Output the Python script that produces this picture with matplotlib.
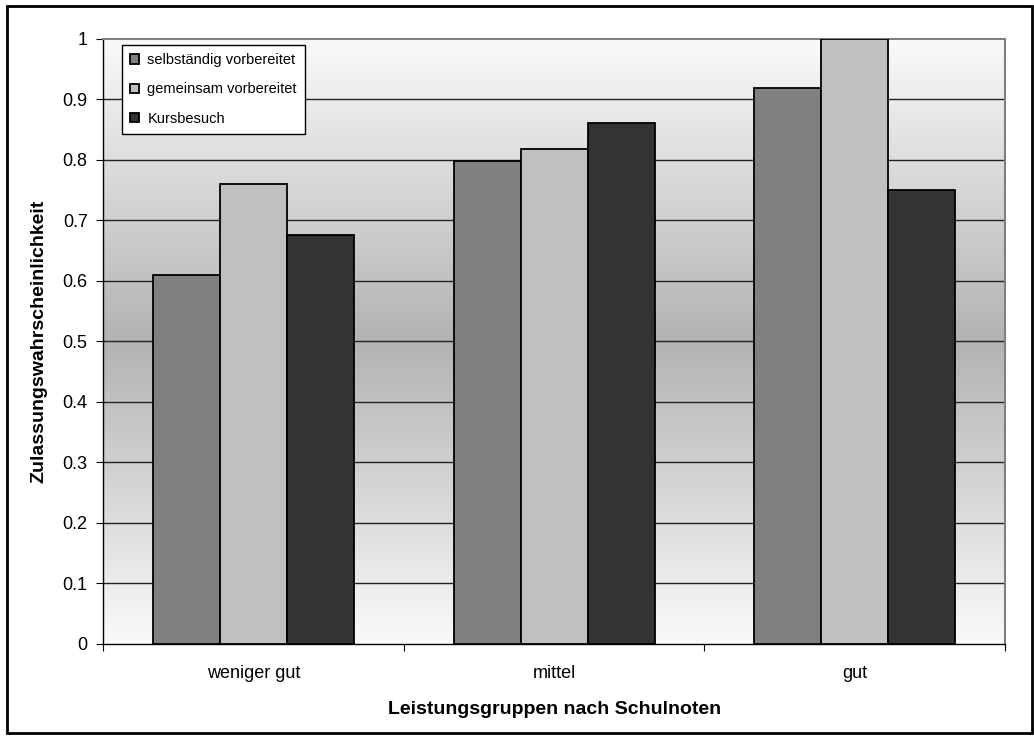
import numpy as np
import matplotlib.pyplot as plt
from matplotlib.patches import Rectangle

plt.rcParams['font.family'] = ['Liberation Sans', 'DejaVu Sans']

# data
groups = ['weniger gut', 'mittel', 'gut']
series = ['selbständig vorbereitet', 'gemeinsam vorbereitet', 'Kursbesuch']
selbst = [0.61, 0.798, 0.919]
gemeinsam = [0.76, 0.818, 1.0]
kurs = [0.676, 0.861, 0.75]
colors = ['#808080', '#c0c0c0', '#333333']

fig = plt.figure(figsize=(10.34, 7.38), dpi=100)
ax = fig.add_axes([0.0996, 0.1274, 0.8726, 0.8198])

# outer frame of the chart
fig.patches.append(Rectangle((0.007, 0.007), 0.991, 0.985, transform=fig.transFigure,
                             fill=False, edgecolor='black', lw=2))

# gradient background: light at top and bottom, darker in the middle
t = np.linspace(0, 1, 256)
shade = 0.98 - 0.28 * (1 - np.abs(2 * t - 1))
grad = np.dstack([shade, shade, shade]).reshape(256, 1, 3)
ax.imshow(grad, extent=(-0.5, 2.5, 0, 1), aspect='auto', origin='lower', zorder=0)

x = np.arange(len(groups))
w = 0.223
for i, (vals, name) in enumerate(zip([selbst, gemeinsam, kurs], series)):
    ax.bar(x + (i - 1) * w, vals, width=w, color=colors[i], edgecolor='black',
           linewidth=1.3, label=name, zorder=3)

ax.set_xlim(-0.5, 2.5)
ax.set_ylim(0, 1)
ax.set_yticks(np.arange(0, 1.01, 0.1))
ax.set_yticklabels(['0', '0.1', '0.2', '0.3', '0.4', '0.5', '0.6', '0.7', '0.8', '0.9', '1'])
for yv in np.arange(0.1, 1.0, 0.1):
    ax.axhline(yv, color='#222222', lw=1, zorder=1)

ax.set_xticks([-0.5, 0.5, 1.5, 2.5])
ax.set_xticklabels([])
ax.set_xticks(x, minor=True)
ax.set_xticklabels(groups, minor=True)
ax.tick_params(axis='x', which='minor', length=0, pad=15, labelsize=13)
ax.tick_params(axis='x', which='major', direction='out', length=5, color='black')
ax.tick_params(axis='y', direction='out', length=5, labelsize=13, pad=6)

for s in ['top', 'right']:
    ax.spines[s].set_color('#808080')
    ax.spines[s].set_linewidth(1.5)
for s in ['left', 'bottom']:
    ax.spines[s].set_color('black')
    ax.spines[s].set_linewidth(1)

ax.set_xlabel('Leistungsgruppen nach Schulnoten', fontsize=14, fontweight='bold', labelpad=14)
ax.set_ylabel('Zulassungswahrscheinlichkeit', fontsize=14, fontweight='bold', labelpad=11)

leg = ax.legend(loc='upper left', bbox_to_anchor=(0.021, 0.99), borderaxespad=0,
                fontsize=10.5, handlelength=0.6, handleheight=0.6, handletextpad=0.6,
                borderpad=0.55, labelspacing=1.05, fancybox=False, framealpha=1)
leg.get_frame().set_edgecolor('black')
leg.get_frame().set_linewidth(1)

fig.savefig('out.png', dpi=100)
